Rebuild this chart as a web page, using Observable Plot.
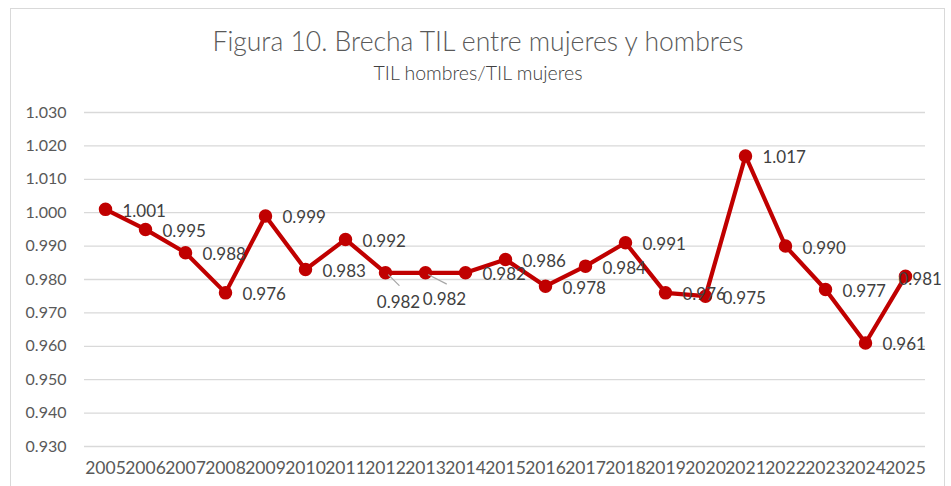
<!DOCTYPE html>
<html>
<head>
<meta charset="utf-8">
<script src="https://cdn.jsdelivr.net/npm/d3@7"></script>
<script src="https://cdn.jsdelivr.net/npm/@observablehq/plot@0.6"></script>
<style>
  html, body { margin: 0; padding: 0; background: #fff; }
  #wrap { position: relative; width: 951px; height: 486px; overflow: hidden; font-family: Lato, "Open Sans", sans-serif; }
  #frame { position: absolute; left: 10px; top: 8px; width: 935px; height: 500px; border: 1.5px solid #d9d9d9; box-sizing: border-box; }
  #title { position: absolute; left: 0; width: 956px; top: 25px; text-align: center; font-size: 26.5px; font-weight: 300; color: #595959; line-height: 32px; }
  #subtitle { position: absolute; left: 0; width: 956px; top: 61px; text-align: center; font-size: 19.5px; font-weight: 300; color: #404040; line-height: 24px; }
  #chart { position: absolute; left: 0; top: 0; }
</style>
</head>
<body>
<div id="wrap">
  <div id="frame"></div>
  <div id="chart"></div>
  <div id="title">Figura 10. Brecha TIL entre mujeres y hombres</div>
  <div id="subtitle">TIL hombres/TIL mujeres</div>
</div>
<script>
const years = [2005, 2006, 2007, 2008, 2009, 2010, 2011, 2012, 2013, 2014, 2015,
               2016, 2017, 2018, 2019, 2020, 2021, 2022, 2023, 2024, 2025];
const ratio = [1.001, 0.995, 0.988, 0.976, 0.999, 0.983, 0.992, 0.982, 0.982, 0.982, 0.986,
               0.978, 0.984, 0.991, 0.976, 0.975, 1.017, 0.990, 0.977, 0.961, 0.981];
const yTicks = [0.93, 0.94, 0.95, 0.96, 0.97, 0.98, 0.99, 1.00, 1.01, 1.02, 1.03];

// label placement tweaks (style only)
const labelNudge = {2012: [13, 30, "middle"], 2013: [19, 27, "middle"], 2025: [-7, 3, "start"]};
const leaders = [
  {year: 2012, length: 15, rotate: 135},
  {year: 2013, length: 20, rotate: 117}
];

const data = years.map((y, i) => ({year: String(y), value: ratio[i]}));
const fmt = d3.format(".3f");
const red = "#C00000";
const font = "Lato, 'Open Sans', sans-serif";

const labelData = data.map(d => {
  const n = labelNudge[+d.year];
  return {...d, dx: n ? n[0] : 17, dy: n ? n[1] : 2, anchor: n ? n[2] : "start"};
});
const leaderData = leaders.map(l => ({...l, year: String(l.year), value: ratio[years.indexOf(l.year)]}));

const marks = [
  Plot.ruleY(yTicks, {stroke: "#d9d9d9", strokeWidth: 1.3}),
  Plot.axisY({ticks: yTicks, tickFormat: fmt, tickSize: 0, tickPadding: 18, fontSize: 16, fill: "#595959", label: null}),
  Plot.axisX({tickSize: 0, tickPadding: 15, fontSize: 17.5, fill: "#595959", label: null}),
  Plot.line(data, {x: "year", y: "value", stroke: red, strokeWidth: 4.2, strokeLinejoin: "round"}),
  Plot.dot(data, {x: "year", y: "value", r: 6, fill: red, stroke: red})
];

for (const d of labelData) {
  marks.push(Plot.text([d], {x: "year", y: "value", text: dd => fmt(dd.value), dx: d.dx, dy: d.dy,
    textAnchor: d.anchor, fontSize: 17, fill: "#404040"}));
}

const lineShape = {draw(context, l) { context.moveTo(0, 0); context.lineTo(0, -l); }};
for (const l of leaderData) {
  marks.push(Plot.vector([l], {x: "year", y: "value", length: () => l.length, rotate: l.rotate,
    anchor: "start", stroke: "#a6a6a6", strokeWidth: 1.2, shape: lineShape, dx: 3, dy: 2}));
}

const chart = Plot.plot({
  width: 951,
  height: 486,
  marginTop: 112,
  marginBottom: 40,
  marginLeft: 84,
  marginRight: 26,
  style: {fontFamily: font, background: "transparent", overflow: "visible"},
  x: {type: "point", domain: years.map(String), padding: 0.5},
  y: {domain: [0.93, 1.03]},
  length: {type: "identity"},
  marks
});
document.getElementById("chart").appendChild(chart);
</script>
</body>
</html>
